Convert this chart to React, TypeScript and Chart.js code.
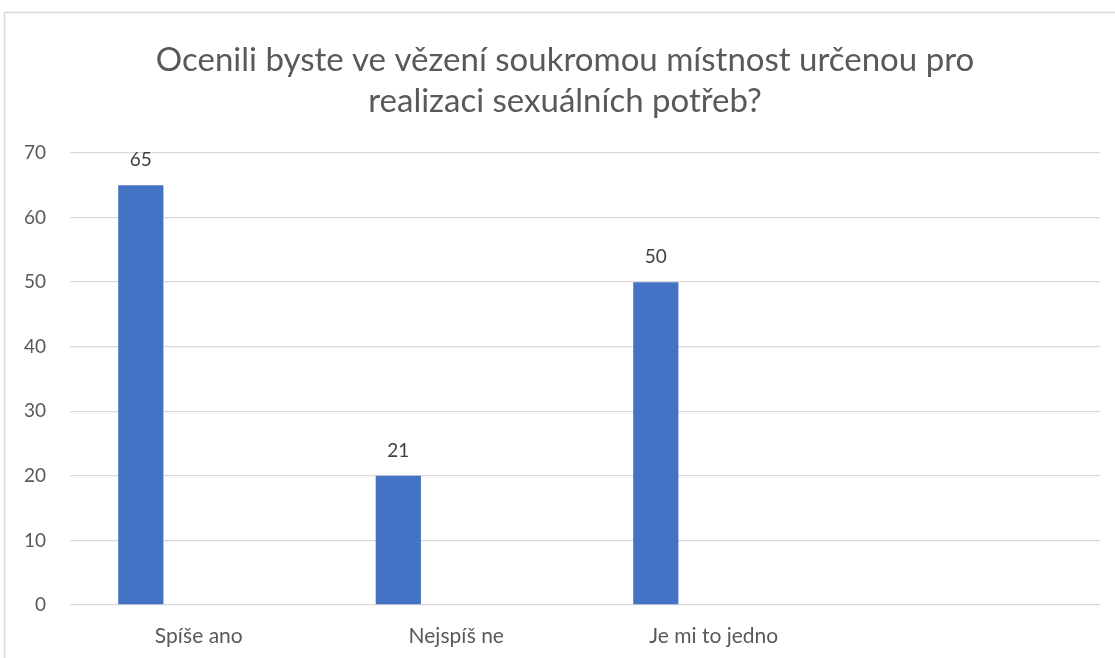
import React, { useEffect, useRef } from "react";
import { Chart, registerables } from "chart.js";

Chart.register(...registerables);

const categories = ["Spíše ano", "Nejspíš ne", "Je mi to jedno", ""];
const barValues = [65, 20, 50, null];
const barLabels = ["65", "21", "50", ""];
const titleLines = [
  "Ocenili byste ve vězení soukromou místnost určenou pro",
  "realizaci sexuálních potřeb?",
];
const yTicks = [0, 10, 20, 30, 40, 50, 60, 70];

const FONT = "Lato, 'Open Sans', sans-serif";
const TEXT = "#595959";
const GRID = "#d9d9d9";
const BAR = "#4472c4";

const frame = {
  id: "frame",
  beforeDraw(chart: any) {
    const ctx = chart.ctx;
    ctx.save();
    ctx.fillStyle = "#ffffff";
    ctx.fillRect(0, 0, chart.width, chart.height);
    ctx.strokeStyle = GRID;
    ctx.lineWidth = 1.5;
    ctx.beginPath();
    ctx.moveTo(4.5, chart.height);
    ctx.lineTo(4.5, 12.5);
    ctx.lineTo(chart.width, 12.5);
    ctx.stroke();
    // title
    ctx.fillStyle = TEXT;
    ctx.font = `33px ${FONT}`;
    ctx.textAlign = "center";
    ctx.textBaseline = "middle";
    ctx.fillText(titleLines[0], 565, 60);
    ctx.fillText(titleLines[1], 565, 101);
    ctx.restore();
  },
};

const valueLabels = {
  id: "valueLabels",
  afterDatasetsDraw(chart: any) {
    const ctx = chart.ctx;
    const meta = chart.getDatasetMeta(0);
    ctx.save();
    ctx.fillStyle = "#404040";
    ctx.font = `19px ${FONT}`;
    ctx.textAlign = "center";
    ctx.textBaseline = "middle";
    meta.data.forEach((el: any, i: number) => {
      if (barValues[i] == null) return;
      ctx.fillText(barLabels[i], el.x, el.y - 25);
    });
    ctx.restore();
  },
};

export default function App() {
  const ref = useRef<HTMLCanvasElement>(null);
  useEffect(() => {
    if (!ref.current) return;
    const chart = new Chart(ref.current, {
      type: "bar",
      data: {
        labels: categories,
        datasets: [
          {
            data: barValues as any,
            backgroundColor: BAR,
            borderWidth: 0,
            categoryPercentage: 0.9,
            barPercentage: 0.39,
          },
          {
            data: [null, null, null, null] as any,
            backgroundColor: BAR,
            categoryPercentage: 0.9,
            barPercentage: 0.39,
          },
        ],
      },
      options: {
        animation: false,
        responsive: true,
        maintainAspectRatio: false,
        layout: { padding: { left: 0, right: 15, top: 153, bottom: 0 } },
        plugins: {
          legend: { display: false },
          tooltip: { enabled: false },
          title: { display: false },
        },
        scales: {
          x: {
            grid: { display: false, drawTicks: false },
            border: { display: false },
            ticks: {
              color: TEXT,
              font: { family: FONT, size: 21 },
              padding: 19,
              maxRotation: 0,
              autoSkip: false,
            },
            afterFit(scale: any) {
              scale.height = 53;
            },
          },
          y: {
            min: 0,
            max: 70,
            afterBuildTicks(scale: any) {
              scale.ticks = yTicks.map((v) => ({ value: v }));
            },
            grid: { color: GRID, lineWidth: 1.3, drawTicks: false },
            border: { display: false },
            ticks: {
              color: TEXT,
              font: { family: FONT, size: 19 },
              padding: 24,
            },
            afterFit(scale: any) {
              scale.width = 70;
            },
          },
        },
      },
      plugins: [frame, valueLabels],
    });
    return () => chart.destroy();
  }, []);
  return (
    <div style={{ position: "fixed", left: 0, top: 0, width: 1115, height: 658 }}>
      <canvas ref={ref} />
    </div>
  );
}
